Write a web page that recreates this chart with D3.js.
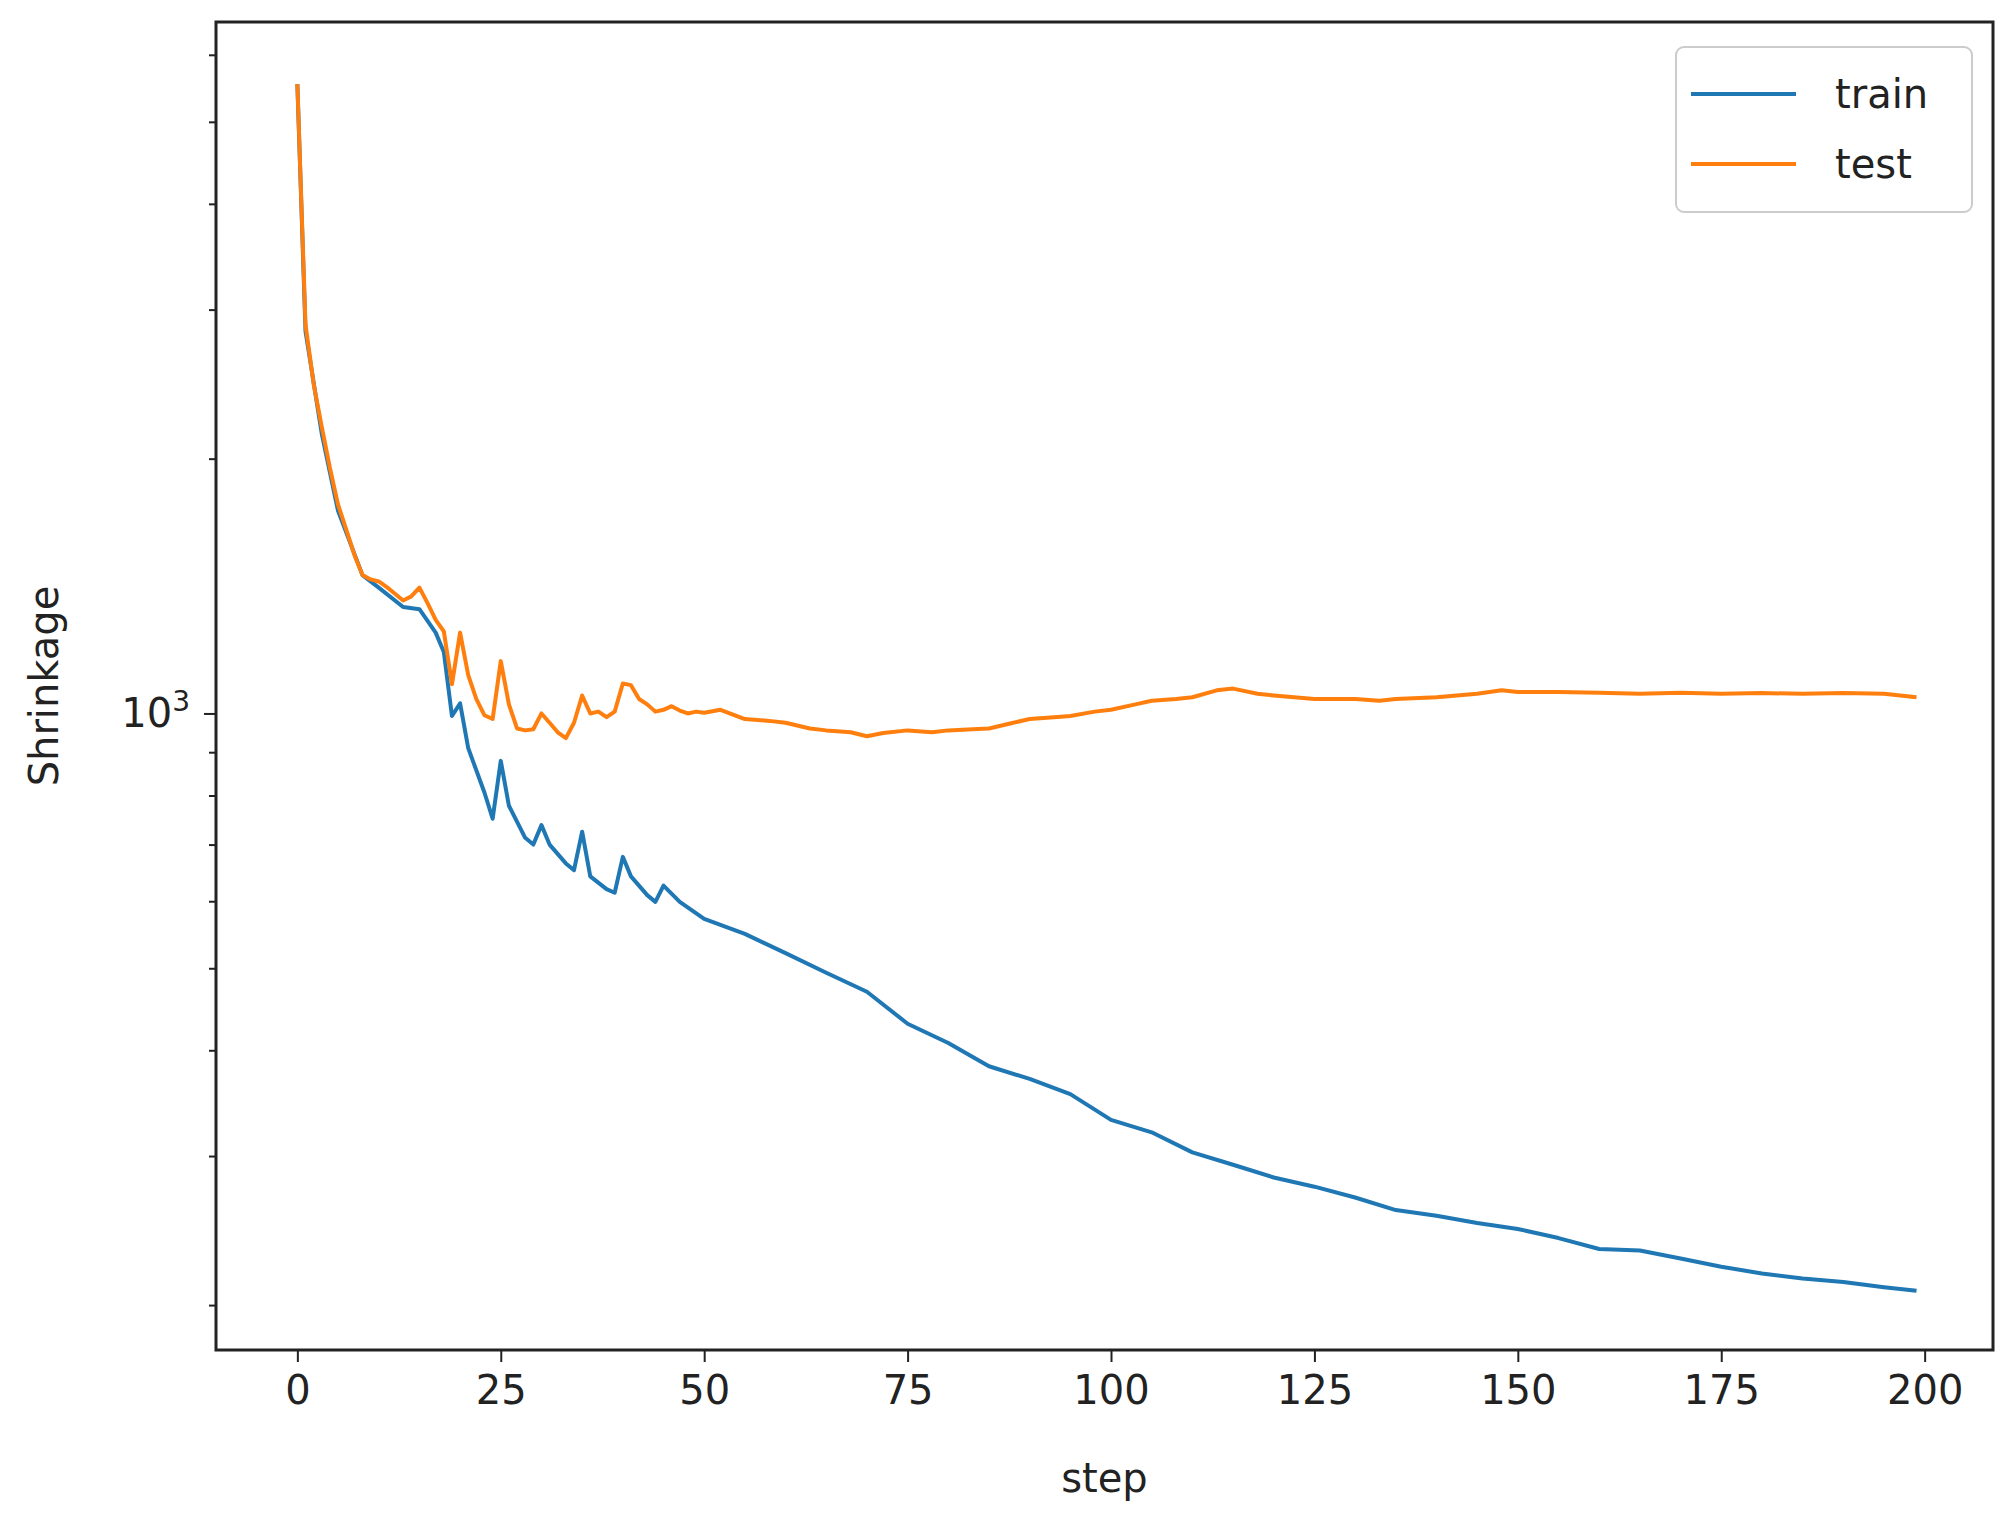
<!DOCTYPE html>
<html><head><meta charset="utf-8">
<script src="https://cdn.jsdelivr.net/npm/d3@7"></script>
<style>body{margin:0;background:#fff}text{font-family:"DejaVu Sans",sans-serif;fill:#222}</style>
</head><body><svg id="c" width="2012" height="1528"></svg>
<script>
const trainSteps=[0,1,3,5,8,10,13,15,17,18,19,20,21,23,24,25,26,28,29,30,31,33,34,35,36,38,39,40,41,43,44,45,47,50,55,60,65,70,75,80,85,90,95,100,105,110,115,120,125,130,135,140,145,150,155,160,165,170,175,180,185,190,195,199];
const trainVals=[5540,2828,2140,1735,1457,1408,1336,1328,1246,1182,993,1028,910,806,751,879,778,713,700,738,700,665,653,725,642,620,614,677,642,610,599,626,599,572,549,521,494,469,430,408,383,370,355,331,320,303,293,283,276,268,259,255,250,246,240,233,232,227,222,218,215,213,210,208];
const testSteps=[0,1,2,3,4,5,6,7,8,9,10,11,12,13,14,15,16,17,18,19,20,21,22,23,24,25,26,27,28,29,30,31,32,33,34,35,36,37,38,39,40,41,42,43,44,45,46,47,48,49,50,52,55,58,60,63,65,68,70,72,75,78,80,83,85,88,90,93,95,98,100,103,105,108,110,113,115,118,120,125,130,133,135,140,145,148,150,155,160,165,170,175,180,185,190,195,199];
const testVals=[5540,2880,2450,2180,1950,1765,1650,1540,1457,1440,1432,1410,1385,1360,1375,1408,1350,1290,1250,1083,1246,1110,1040,995,985,1153,1025,960,955,958,1000,975,950,935,975,1050,1000,1005,990,1005,1085,1080,1040,1025,1005,1010,1020,1008,1000,1005,1002,1010,985,980,975,960,955,950,940,948,955,950,955,958,960,975,985,990,993,1005,1010,1025,1035,1040,1045,1065,1070,1055,1050,1040,1040,1035,1040,1045,1055,1065,1060,1060,1058,1055,1058,1055,1057,1055,1057,1055,1045];
const xTicks=[0,25,50,75,100,125,150,175,200];
const seriesNames=["train","test"];
const colors=["#1f77b4","#ff7f0e"];

const L=216,R=1993,T=22,B=1350;
const svg=d3.select("#c");
const x=d3.scaleLinear().domain([-10,208.4]).range([L,R]);
const y=d3.scaleLog().domain([177,6560]).range([B,T]);
const line=d3.line().x(d=>x(d[0])).y(d=>y(d[1]));
const series=[d3.zip(trainSteps,trainVals),d3.zip(testSteps,testVals)];
series.forEach((s,i)=>svg.append("path").attr("d",line(s)).attr("fill","none").attr("stroke",colors[i]).attr("stroke-width",4).attr("stroke-linejoin","round"));

const xa=svg.append("g").attr("transform",`translate(0,${B})`).call(d3.axisBottom(x).tickValues(xTicks).tickSize(12).tickPadding(14));
xa.selectAll("text").attr("font-size",40);
const minor=[200,300,400,500,600,700,800,900,2000,3000,4000,5000,6000];
const ya=svg.append("g").attr("transform",`translate(${L},0)`).call(d3.axisLeft(y).tickValues(minor).tickSize(7).tickFormat(""));
const ym=svg.append("g").attr("transform",`translate(${L},0)`).call(d3.axisLeft(y).tickValues([1000]).tickSize(12).tickPadding(12).tickFormat(""));
svg.append("text").attr("x",L-26).attr("y",y(1000)+14).attr("text-anchor","end").attr("font-size",40).html('10<tspan dy="-16" font-size="28">3</tspan>');
svg.selectAll(".domain").remove();
svg.selectAll(".tick line").attr("stroke","#222").attr("stroke-width",2);
svg.append("rect").attr("x",L).attr("y",T).attr("width",R-L).attr("height",B-T).attr("fill","none").attr("stroke","#222").attr("stroke-width",3);
svg.append("text").attr("x",(L+R)/2).attr("y",1492).attr("text-anchor","middle").attr("font-size",40).text("step");
svg.append("text").attr("transform",`translate(58,${(T+B)/2}) rotate(-90)`).attr("text-anchor","middle").attr("font-size",40).text("Shrinkage");

const lg=svg.append("g");
lg.append("rect").attr("x",1676).attr("y",47).attr("width",296).attr("height",165).attr("rx",8).attr("fill","#fff").attr("stroke","#ccc").attr("stroke-width",2);
seriesNames.forEach((n,i)=>{const yy=94+i*70;
 lg.append("line").attr("x1",1691).attr("x2",1796).attr("y1",yy).attr("y2",yy).attr("stroke",colors[i]).attr("stroke-width",4);
 lg.append("text").attr("x",1835).attr("y",yy+14).attr("font-size",40).text(n);});
</script></body></html>
